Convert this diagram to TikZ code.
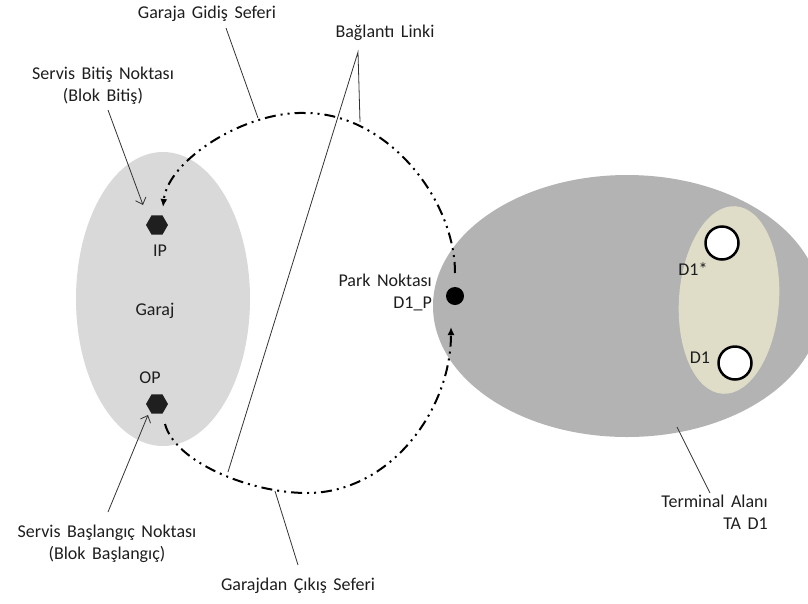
\documentclass[tikz,border=0pt]{standalone}
\usepackage{fontspec}
\setmainfont{Carlito}
\usetikzlibrary{arrows.meta,shapes.geometric}
\definecolor{garajgray}{HTML}{D9D9D9}
\definecolor{termgray}{HTML}{B3B3B3}
\definecolor{areabeige}{HTML}{DFDCC8}
\definecolor{inkgray}{HTML}{1E1E1E}
\newcommand{\lblfont}{\fontsize{18}{22}\selectfont\spaceskip=6.5pt\relax}
\tikzset{
  lbl/.style={font=\lblfont, text=inkgray, inner sep=0pt},
  leader/.style={draw=black!80, line width=0.8pt},
  pointer/.style={leader, -{Straight Barb[length=6pt,width=11pt]}},
  trip/.style={line width=2pt, line cap=butt,
    dash pattern=on 11pt off 5pt on 2pt off 5pt on 2pt off 5pt,
    -{Latex[length=8pt,width=7pt]}},
  hexa/.style={regular polygon, regular polygon sides=6, fill=black!88,
    minimum size=22pt, inner sep=0pt},
  depot/.style={circle, draw=black, line width=2.5pt, fill=white,
    minimum size=33pt, inner sep=0pt},
  parkdot/.style={circle, fill=black, minimum size=18pt, inner sep=0pt},
}
\begin{document}
\begin{tikzpicture}[x=1pt,y=-1pt]
\clip (0,0) rectangle (808,603);

% areas
\fill[garajgray] (163,299) ellipse [x radius=87, y radius=147];
\fill[termgray] (627,306) ellipse [x radius=194, y radius=131];
\fill[areabeige, rotate around={-4:(729,300)}] (729,300) ellipse [x radius=50, y radius=94];

% garage points
\node[hexa] (ip) at (157,225) {};
\node[hexa] (op) at (157,404) {};
\node[lbl] (iplbl) at (160,251) {IP};
\node[lbl] (oplbl) at (150,378) {OP};
\node[lbl] (garaj) at (155,311) {Garaj};

% park point
\node[parkdot] (park) at (455,296) {};
\node[lbl, anchor=east, align=right] (parklbl) at (432,292) {Park Noktası\\D1\_P};

% terminal depots
\node[depot] (dstar) at (722,243) {};
\node[depot] (done) at (735,363) {};
\node[lbl] (dstarlbl) at (693,269) {D1*};
\node[lbl] (donelbl) at (700,358) {D1};

% trip ends and the top / bottom of the loop
\coordinate (parkout) at (455,273);
\coordinate (ipin) at (163,207);
\coordinate (opout) at (165,424);
\coordinate (parkin) at (451,327);
\coordinate (looptop) at (305,113);
\coordinate (loopbottom) at (307,493);

% pull-in trip (park -> IP)
\draw[trip] (parkout) .. controls (455,200) and (388,113) .. (looptop)
  .. controls (245,111) and (168,160) .. (ipin);

% pull-out trip (OP -> park)
\draw[trip] (opout) .. controls (175,462) and (250,493) .. (loopbottom)
  .. controls (390,493) and (451,410) .. (parkin);

% labels
\node[lbl] (gidis) at (207,14) {Garaja Gidiş Seferi};
\node[lbl] (baglanti) at (385,33) {Bağlantı Linki};
\node[lbl, align=center] (bitis) at (103,86) {Servis Bitiş Noktası\\(Blok Bitiş)};
\node[lbl, align=center] (baslangic) at (107,544) {Servis Başlangıç Noktası\\(Blok Başlangıç)};
\node[lbl] (cikis) at (298,586) {Garajdan Çıkış Seferi};
\node[lbl, anchor=east, align=right] (terminal) at (768,512) {Terminal Alanı\\TA D1};

% leader ends
\coordinate (gidisfoot) at (226,28);
\coordinate (gidistip) at (258,118);
\coordinate (baglantifoot) at (358,52);
\coordinate (baglantitipA) at (360,122);
\coordinate (baglantitipB) at (228,472);
\coordinate (bitisfoot) at (108,110);
\coordinate (bitistip) at (143,205);
\coordinate (baslangicfoot) at (108,512);
\coordinate (baslangictip) at (148,415);
\coordinate (cikisfoot) at (298,565);
\coordinate (cikistip) at (275,491);
\coordinate (terminalfoot) at (710,493);
\coordinate (terminaltip) at (677,427);

\draw[leader] (gidisfoot) -- (gidistip);
\draw[leader] (baglantitipA) -- (baglantifoot) -- (baglantitipB);
\draw[pointer] (bitisfoot) -- (bitistip);
\draw[pointer] (baslangicfoot) -- (baslangictip);
\draw[leader] (cikisfoot) -- (cikistip);
\draw[leader] (terminalfoot) -- (terminaltip);
\end{tikzpicture}
\end{document}
